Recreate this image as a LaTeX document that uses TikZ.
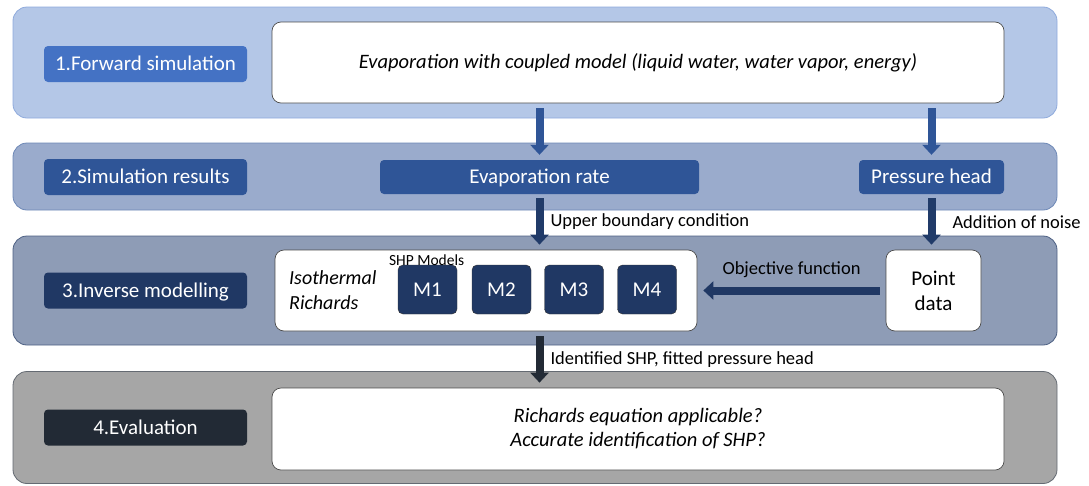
\documentclass[tikz,border=0pt]{standalone}
\usepackage{fontspec}
\setmainfont{Carlito}
\usepackage{tikz}
\usetikzlibrary{shapes.geometric, arrows.meta, positioning}
\definecolor{bandA}{HTML}{B4C7E7}
\definecolor{bandB}{HTML}{9AABCC}
\definecolor{bandC}{HTML}{8E9CB6}
\definecolor{bandD}{HTML}{A6A6A6}
\definecolor{blueA}{HTML}{4472C4}
\definecolor{blueB}{HTML}{2F5597}
\definecolor{blueC}{HTML}{203864}
\definecolor{navyD}{HTML}{222A35}
\tikzstyle{band} = [rectangle, rounded corners=14pt, minimum width=1044pt, line width=0.8pt, inner sep=0pt]
\tikzstyle{stage} = [rectangle, rounded corners=4pt, minimum width=203pt, minimum height=36pt, text=white, font=\fontsize{21}{24}\selectfont, text height=15pt, text depth=1.7pt, text centered]
\tikzstyle{whitebox} = [rectangle, rounded corners=9pt, fill=white, draw=black!70, line width=0.7pt, font=\fontsize{20.5}{24}\selectfont\itshape, align=center]
\tikzstyle{result} = [rectangle, rounded corners=4pt, fill=blueB, minimum height=34pt, text=white, font=\fontsize{21}{24}\selectfont, text height=15pt, text depth=1.7pt]
\tikzstyle{model} = [rectangle, rounded corners=5pt, fill=blueC, draw=black!80, minimum width=59pt, minimum height=49pt, text=white, font=\fontsize{21}{24}\selectfont]
\tikzstyle{arrow} = [line width=8pt, -{Triangle[length=10pt, width=18pt]}]
\tikzstyle{note} = [font=\fontsize{18.5}{22}\selectfont, text=black, inner sep=0pt]
\begin{document}
\begin{tikzpicture}[x=1pt, y=-1pt]
\useasboundingbox (0,0) rectangle (1089,485);
% the four bands
\node (band1) [band, fill=bandA, draw=blueA!60, minimum height=111pt] at (535,62.5) {};
\node (band2) [band, fill=bandB, draw=blueB!70, minimum height=67pt] at (535,176.5) {};
\node (band3) [band, fill=bandC, draw=blueC!80, minimum height=109pt] at (535,290.5) {};
\node (band4) [band, fill=bandD, draw=navyD!70, minimum height=112pt] at (535,427.5) {};
% stage labels
\node (s1) [stage, fill=blueA] at (145.5,64) {1.Forward simulation};
\node (s2) [stage, fill=blueB] at (145.5,177) {2.Simulation results};
\node (s3) [stage, fill=blueC] at (145.5,290.5) {3.Inverse modelling};
\node (s4) [stage, fill=navyD] at (145.5,427.5) {4.Evaluation};
% contents
\node (fwd) [whitebox, minimum width=732pt, minimum height=81pt] at (638,62.5) {Evaporation with coupled model (liquid water, water vapor, energy)};
\node (evap) [result, minimum width=319pt] at (539.5,177) {Evaporation rate};
\node (press) [result, minimum width=145pt] at (931.5,177) {Pressure head};
\node (inv) [whitebox, minimum width=422pt, minimum height=81pt] at (486,290.5) {};
\node (iso) [anchor=west, align=left, font=\fontsize{20}{25}\selectfont\itshape, inner sep=0pt] at (289,290) {Isothermal\\Richards};
\node (m1) [model] at (427.5,289.5) {M1};
\node (m2) [model] at (501.5,289.5) {M2};
\node (m3) [model] at (574,289.5) {M3};
\node (m4) [model] at (647,289.5) {M4};
\node (shp) [anchor=south west, inner sep=0pt, font=\fontsize{15.5}{17}\selectfont] at ([xshift=-9pt, yshift=-1pt]m1.north west) {SHP Models};
\node (point) [whitebox, font=\fontsize{21}{25}\selectfont, minimum width=95pt, minimum height=81pt] at (933.5,290.5) {Point\\data};
\node (eval) [whitebox, minimum width=732pt, minimum height=82pt] at (638,429) {Richards equation applicable?\\Accurate identification of SHP?};
% arrows
\draw [arrow, blueB, shorten <=5pt, shorten >=5pt] (evap.north |- fwd.south) -- (evap.north);
\draw [arrow, blueB, shorten <=5pt, shorten >=5pt] (press.north |- fwd.south) -- (press.north);
\draw [arrow, blueC!90!blueB, shorten <=4pt, shorten >=5pt] (evap.south) -- node [note, right=7pt] {Upper boundary condition} (evap.south |- inv.north);
\draw [arrow, blueC!90!blueB, shorten <=4pt, shorten >=5pt] (press.south) -- node [note, right=17pt] {Addition of noise} (press.south |- point.north);
\draw [arrow, blueC, shorten <=6pt, shorten >=6pt] (point.west) -- node [note, above=9pt] {Objective function} (inv.east);
\draw [arrow, navyD, shorten <=5pt, shorten >=5pt] (evap.south |- inv.south) -- node [note, right=7pt] {Identified SHP, fitted pressure head} (evap.south |- eval.north);
\end{tikzpicture}
\end{document}
